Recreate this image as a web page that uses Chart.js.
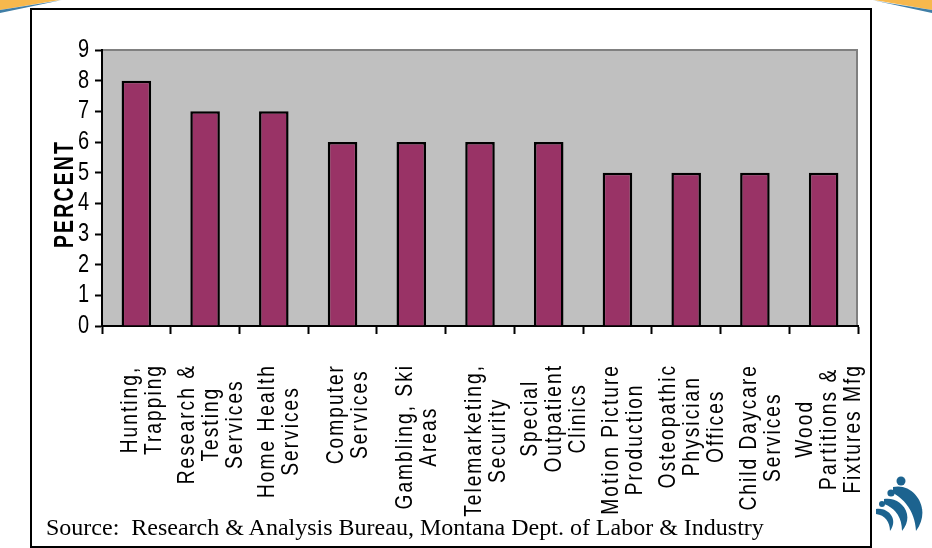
<!DOCTYPE html>
<html>
<head>
<meta charset="utf-8">
<title>Fastest growing industries</title>
<script src="https://cdn.jsdelivr.net/npm/chart.js@4"></script>
<style>
  html, body { margin: 0; padding: 0; background: #fff; overflow: hidden; }
  #stage { position: relative; width: 932px; height: 548px; }
  #chart { position: absolute; left: 0; top: 0; }
  #frame { position: absolute; left: 30px; top: 8px; width: 838px; height: 536px; border: 2px solid #000; pointer-events: none; }
  #source { position: absolute; left: 46px; top: 514px; font: 24px "Liberation Serif", serif; color: #000; white-space: pre; }
  svg.deco { position: absolute; left: 0; top: 0; }
</style>
</head>
<body>
<div id="stage">
  <svg class="deco" width="932" height="548" viewBox="0 0 932 548">
    <defs>
      <filter id="soft"><feGaussianBlur stdDeviation="0.7"/></filter>
    </defs>
    <g filter="url(#soft)">
      <path d="M0 0H60L0 10Z" fill="#f7b84e"/>
      <path d="M0 10L44 3L62 0L0 13Z" fill="#3f7ea6"/>
      <path d="M932 0H874L932 10Z" fill="#f7b84e"/>
      <path d="M932 10L888 3L872 0L932 13Z" fill="#3f7ea6"/>
      <g fill="#1c648f">
        <circle cx="901" cy="481" r="4.5"/>
        <circle cx="891" cy="493" r="3.6"/>
        <circle cx="882" cy="504" r="3"/>
        <path d="M893 487C913 482 933 508 916 531C915 513 906 500 893 493Z"/>
        <path d="M884 499C900 496 916 514 902 531C902 517 895 508 884 504Z"/>
        <path d="M876 509C888 507 899 519 890 531C890 522 885 515 876 514Z"/>
      </g>
    </g>
  </svg>
  <canvas id="chart" width="932" height="548"></canvas>
  <div id="frame"></div>
  <div id="source">Source:  Research &amp; Analysis Bureau, Montana Dept. of Labor &amp; Industry</div>
</div>
<script>
const categories = [
  ["Hunting,", "Trapping"],
  ["Research &", "Testing", "Services"],
  ["Home Health", "Services"],
  ["Computer", "Services"],
  ["Gambling, Ski", "Areas"],
  ["Telemarketing,", "Security"],
  ["Special", "Outpatient", "Clinics"],
  ["Motion Picture", "Production"],
  ["Osteopathic", "Physician", "Offices"],
  ["Child Daycare", "Services"],
  ["Wood", "Partitions &", "Fixtures Mfg"]
];
const percentValues = [8, 7, 7, 6, 6, 6, 6, 5, 5, 5, 5];
const axisTitle = "PERCENT";

const FONT_FAMILY = '"Liberation Sans", Arial, sans-serif';
const CONDENSE = 0.8;
const TITLE_CONDENSE = 0.72;
const LABEL_SPACING = '2.5px';
const TITLE_SPACING = '3px';
const TITLE_DROP = 6;
const LABEL_FONT_SIZE = 24;
const LABEL_LINE_HEIGHT = 24;
const LABEL_TOP = 364;
const LABEL_SHIFT = 6;

const categoryLines = new Set(categories.flat());

function spacingFor(text) {
  if (text === axisTitle) return TITLE_SPACING;
  return categoryLines.has(text) ? LABEL_SPACING : '0px';
}

// All axis text is set in a condensed, tracked form, so text calls on this context get narrowed.
const condensedText = {
  id: 'condensedText',
  beforeInit(chart) {
    const ctx = chart.ctx;
    const fill = ctx.fillText.bind(ctx);
    ctx.fillText = (text, x, y) => {
      const isTitle = text === axisTitle;
      ctx.save();
      ctx.letterSpacing = spacingFor(text);
      // The axis title is rotated, so moving it back along its baseline lowers it.
      ctx.translate(isTitle ? x - TITLE_DROP : x, y);
      ctx.scale(isTitle ? TITLE_CONDENSE : CONDENSE, 1);
      fill(text, 0, 0);
      ctx.restore();
    };
  }
};

// Grey plot background with the thin darker edge along the top and right.
const plotBackground = {
  id: 'plotBackground',
  beforeDraw(chart) {
    const { ctx, chartArea: a } = chart;
    ctx.save();
    ctx.fillStyle = '#c0c0c0';
    ctx.fillRect(a.left, a.top, a.right - a.left, a.bottom - a.top);
    ctx.strokeStyle = '#808080';
    ctx.lineWidth = 2;
    ctx.beginPath();
    ctx.moveTo(a.left, a.top);
    ctx.lineTo(a.right - 1, a.top);
    ctx.lineTo(a.right - 1, a.bottom);
    ctx.stroke();
    ctx.restore();
  }
};

// Centres each line of a rotated category label inside its block; every block starts at the same height.
const centeredCategoryLabels = {
  id: 'centeredCategoryLabels',
  afterUpdate(chart) {
    const scale = chart.scales.x;
    const ctx = chart.ctx;
    ctx.save();
    ctx.font = `${LABEL_FONT_SIZE}px ${FONT_FAMILY}`;
    ctx.letterSpacing = LABEL_SPACING;
    scale.getLabelItems(chart.chartArea).forEach((item, i) => {
      const lines = item.label;
      const longest = Math.max(...lines.map(l => ctx.measureText(l).width)) * CONDENSE;
      item.options.textAlign = 'center';
      item.options.textBaseline = 'middle';
      item.options.translation = [
        scale.getPixelForTick(i) + LABEL_SHIFT,
        LABEL_TOP + longest / 2
      ];
      item.textOffset = -(lines.length - 1) / 2 * LABEL_LINE_HEIGHT;
    });
    ctx.restore();
  }
};

new Chart(document.getElementById('chart'), {
  type: 'bar',
  data: {
    labels: categories,
    datasets: [{
      data: percentValues,
      backgroundColor: '#993366',
      borderColor: '#000',
      borderWidth: 2.5,
      borderSkipped: 'bottom',
      barPercentage: 0.43,
      categoryPercentage: 1
    }]
  },
  plugins: [condensedText, plotBackground, centeredCategoryLabels],
  options: {
    responsive: false,
    animation: false,
    devicePixelRatio: 1,
    layout: { padding: { left: 0, right: 74, top: 50, bottom: 0 } },
    plugins: { legend: { display: false }, tooltip: { enabled: false } },
    scales: {
      x: {
        offset: true,
        afterFit(scale) { scale.height = 222; },
        grid: {
          offset: true,
          drawOnChartArea: false,
          tickLength: 8,
          tickWidth: 2,
          tickColor: '#000'
        },
        border: { display: true, color: '#000', width: 2 },
        ticks: {
          autoSkip: false,
          minRotation: 90,
          maxRotation: 90,
          color: '#000',
          font: { family: FONT_FAMILY, size: LABEL_FONT_SIZE, lineHeight: LABEL_LINE_HEIGHT + 'px' }
        }
      },
      y: {
        min: 0,
        max: 9,
        afterFit(scale) { scale.width = 102; },
        grid: {
          drawOnChartArea: false,
          tickLength: 7,
          tickWidth: 2,
          tickColor: '#000'
        },
        border: { display: true, color: '#000', width: 2 },
        ticks: {
          autoSkip: false,
          stepSize: 1,
          padding: 6,
          color: '#000',
          font: { family: FONT_FAMILY, size: 25 }
        },
        title: {
          display: true,
          text: axisTitle,
          color: '#000',
          padding: { top: 49, bottom: 0 },
          font: { family: FONT_FAMILY, size: 27, weight: 'bold' }
        }
      }
    }
  }
});
</script>
</body>
</html>
